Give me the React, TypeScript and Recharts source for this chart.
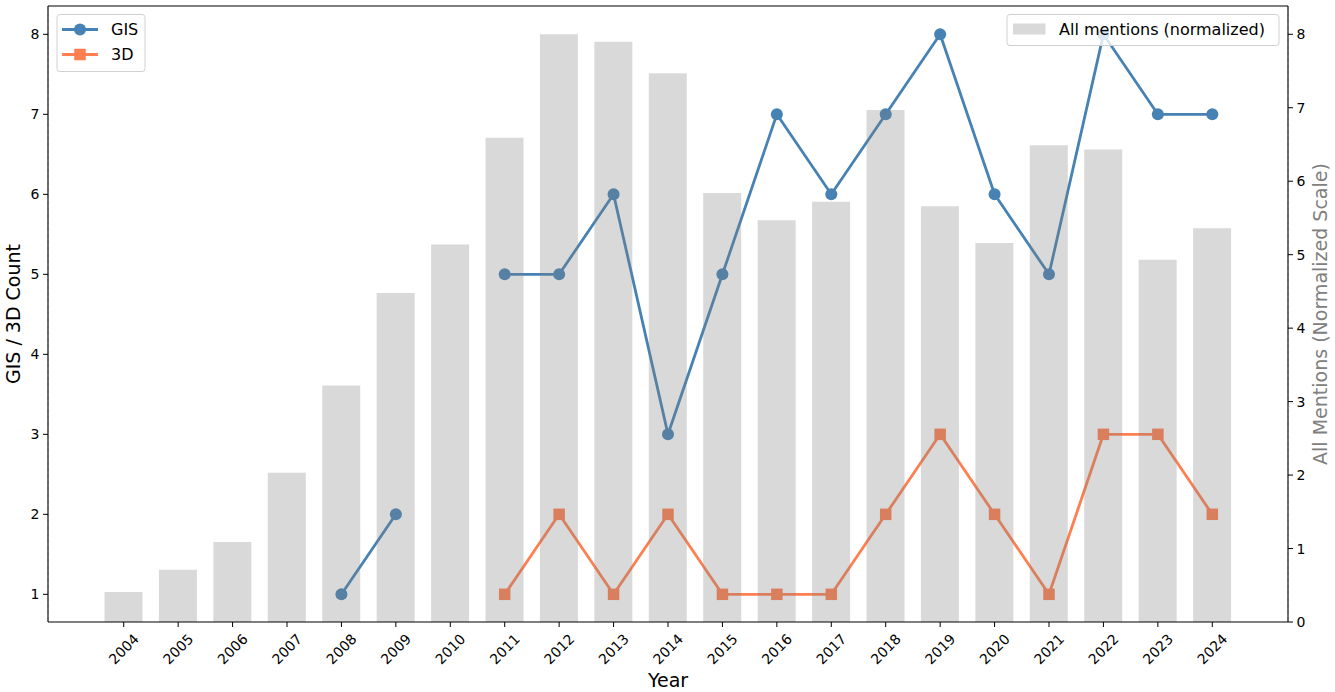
import React from "react"
import { ComposedChart, Bar, Line, XAxis, YAxis, CartesianGrid } from "recharts"

const years = [
  2004, 2005, 2006, 2007, 2008, 2009, 2010, 2011, 2012, 2013, 2014,
  2015, 2016, 2017, 2018, 2019, 2020, 2021, 2022, 2023, 2024,
]
const gisCounts = [null, null, null, null, 1, 2, null, 5, 5, 6, 3, 5, 7, 6, 7, 8, 6, 5, 8, 7, 7]
const threeDCounts = [null, null, null, null, null, null, null, 1, 2, 1, 2, 1, 1, 1, 2, 3, 2, 1, 3, 3, 2]
const allMentions = [
  0.41, 0.71, 1.09, 2.03, 3.22, 4.48, 5.14, 6.59, 8.0, 7.9, 7.47,
  5.84, 5.47, 5.72, 6.97, 5.66, 5.16, 6.49, 6.43, 4.93, 5.36,
]
const leftTicks = [1, 2, 3, 4, 5, 6, 7, 8]
const rightTicks = [0, 1, 2, 3, 4, 5, 6, 7, 8]

const GIS_COLOR = "#4682B4"
const THREE_D_COLOR = "#FF7F50"
const BAR_COLOR = "#808080"
const FONT = "DejaVu Sans, sans-serif"

const W = 1335
const H = 692
const MARGIN = { top: 6, right: 0, bottom: 0, left: 0 }

const data = years.map((year, i) => ({
  year: String(year),
  gis: gisCounts[i],
  threeD: threeDCounts[i],
  all: allMentions[i],
}))

const YearTick = (props: any) => {
  const { x, y, payload } = props
  const cy = y + 20
  return (
    <text
      x={x}
      y={cy}
      textAnchor="middle"
      dominantBaseline="central"
      fontSize={14}
      fill="#000"
      fontFamily={FONT}
      transform={`rotate(-45 ${x} ${cy})`}
    >
      {payload.value}
    </text>
  )
}

const SquareDot = (props: any) => {
  const { cx, cy, index } = props
  if (cx == null || cy == null || props.value == null) return <g key={`sq-${index}`} />
  const s = 11.5
  return <rect key={`sq-${index}`} x={cx - s / 2} y={cy - s / 2} width={s} height={s} fill={THREE_D_COLOR} />
}

// axes shared by both layers; "show" switches ticks/lines on for the top layer only
function axes(show: boolean) {
  const line = show ? { stroke: "#000", strokeWidth: 1.1 } : false
  const tl = show ? { stroke: "#000" } : false
  const tk = show ? { fill: "#000", fontSize: 14, fontFamily: FONT } : false
  return [
    <XAxis
      key="x"
      dataKey="year"
      height={70}
      padding={{ left: 48.5, right: 48.5 }}
      interval={0}
      tick={show ? <YearTick /> : false}
      tickSize={5}
      tickMargin={2}
      axisLine={line}
      tickLine={tl}
    />,
    <YAxis
      key="yl"
      yAxisId="left"
      width={48}
      domain={[0.654, 8.354]}
      allowDataOverflow
      ticks={leftTicks}
      tickSize={5}
      tickMargin={3.5}
      tick={tk}
      axisLine={line}
      tickLine={tl}
    />,
    <YAxis
      key="yr"
      yAxisId="right"
      orientation="right"
      width={47}
      domain={[0, 8.385]}
      allowDataOverflow
      ticks={rightTicks}
      tickSize={5}
      tickMargin={3.5}
      tick={tk}
      axisLine={line}
      tickLine={tl}
    />,
  ]
}

// legend + titles + top spine drawn on top of everything
function Overlay() {
  return (
    <svg width={W} height={H} style={{ position: "absolute", left: 0, top: 0, pointerEvents: "none" }} fontFamily={FONT}>
      <line x1={48} x2={1288} y1={6} y2={6} stroke="#000" strokeWidth={1.1} />

      <rect x={57} y={14.5} width={88} height={57} rx={3} fill="rgba(255,255,255,0.8)" stroke="#d0d0d0" />
      <line x1={62} x2={98} y1={29.5} y2={29.5} stroke={GIS_COLOR} strokeWidth={2.8} />
      <circle cx={80} cy={29.5} r={6} fill={GIS_COLOR} />
      <text x={111} y={29.5} dominantBaseline="central" fontSize={16}>GIS</text>
      <line x1={62} x2={98} y1={54.5} y2={54.5} stroke={THREE_D_COLOR} strokeWidth={2.8} />
      <rect x={74.25} y={48.75} width={11.5} height={11.5} fill={THREE_D_COLOR} />
      <text x={111} y={54.5} dominantBaseline="central" fontSize={16}>3D</text>

      <rect x={1007} y={14.5} width={272} height={31} rx={3} fill="rgba(255,255,255,0.8)" stroke="#d0d0d0" />
      <rect x={1013} y={23.5} width={32.5} height={11} fill={BAR_COLOR} fillOpacity={0.3} />
      <text x={1059} y={29.5} dominantBaseline="central" fontSize={16}>All mentions (normalized)</text>

      <text x={668} y={687} textAnchor="middle" fontSize={19}>Year</text>
      <text x={20} y={314} textAnchor="middle" fontSize={19} transform="rotate(-90 20 314)">GIS / 3D Count</text>
      <text x={1327} y={314} textAnchor="middle" fontSize={19} fill="#808080" transform="rotate(-90 1327 314)">
        All Mentions (Normalized Scale)
      </text>
    </svg>
  )
}

const layer: React.CSSProperties = { position: "absolute", left: 0, top: 0 }

export default function App() {
  return (
    <div style={{ position: "absolute", left: 0, top: 0, width: W, height: H, background: "#fff", fontFamily: FONT }}>
      {/* bottom layer: grid and lines (an invisible bar keeps the band x scale) */}
      <div style={layer}>
        <ComposedChart width={W} height={H} data={data} margin={MARGIN}>
          <CartesianGrid
            yAxisId="left"
            stroke="#b0b0b0"
            strokeOpacity={0.6}
            strokeDasharray="4 2.5"
            horizontalValues={leftTicks}
          />
          {axes(false)}
          <Bar yAxisId="right" dataKey="all" barSize={38} fill="none" fillOpacity={0} isAnimationActive={false} />
          <Line
            yAxisId="left"
            dataKey="gis"
            stroke={GIS_COLOR}
            strokeWidth={2.8}
            strokeLinejoin="round"
            dot={{ r: 6, fill: GIS_COLOR, stroke: GIS_COLOR, strokeWidth: 0 }}
            activeDot={false}
            isAnimationActive={false}
          />
          <Line
            yAxisId="left"
            dataKey="threeD"
            stroke={THREE_D_COLOR}
            strokeWidth={2.8}
            strokeLinejoin="round"
            dot={<SquareDot />}
            activeDot={false}
            isAnimationActive={false}
          />
        </ComposedChart>
      </div>
      {/* top layer: translucent bars (twin axis) drawn over the lines, plus visible axes */}
      <div style={layer}>
        <ComposedChart width={W} height={H} data={data} margin={MARGIN}>
          {axes(true)}
          <Bar
            yAxisId="right"
            dataKey="all"
            barSize={38}
            fill={BAR_COLOR}
            fillOpacity={0.3}
            isAnimationActive={false}
          />
        </ComposedChart>
      </div>
      <Overlay />
    </div>
  )
}
